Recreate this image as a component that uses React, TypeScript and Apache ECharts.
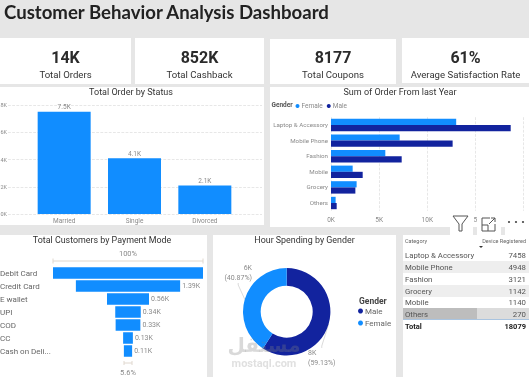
import React, { useEffect, useRef } from "react";
import * as echarts from "echarts";

const BLUE = "#118DFF";
const NAVY = "#12239E";
const SANS = "Roboto";

const kpiValues = ["14K", "852K", "8177", "61%"];
const kpiLabels = ["Total Orders", "Total Cashback", "Total Coupons", "Average Satisfaction Rate"];

const statusCategories = ["Married", "Single", "Divorced"];
const statusValues = [7500, 4100, 2100];
const statusLabels = ["7.5K", "4.1K", "2.1K"];

const productCategories = ["Laptop & Accessory", "Mobile Phone", "Fashion", "Mobile", "Grocery", "Others"];
const femaleOrders = [13000, 7130, 5640, 2250, 2660, 480];
const maleOrders = [18660, 12630, 7340, 3290, 2530, 590];

const payCategories = ["Debit Card", "Credit Card", "E wallet", "UPI", "COD", "CC", "Cash on Deli..."];
const payValues = [2000, 1390, 560, 340, 330, 130, 110];
const payLabels = ["", "1.39K", "0.56K", "0.34K", "0.33K", "0.13K", "0.11K"];

const genderNames = ["Male", "Female"];
const genderValues = [59.13, 40.87];
const genderLabels = ["8K\n(59.13%)", "6K\n(40.87%)"];

const tableCategories = ["Laptop & Accessory", "Mobile Phone", "Fashion", "Grocery", "Mobile", "Others"];
const tableValues = [7458, 4948, 3121, 1142, 1140, 270];
const tableTotal = 18079;

const kFmt = (v: number) => `${v / 1000}K`;
const GRAY = "#8a8a8a";
const TITLE = "#333333";

function rect(x: number, y: number, w: number, h: number, fill: string, z = 0) {
  return { type: "rect", silent: true, z, shape: { x, y, width: w, height: h }, style: { fill } };
}
function text(x: number, y: number, t: string, size: number, fill: string, align = "left", weight: any = "normal", z = 5, family = SANS) {
  return {
    type: "text", silent: true, z, x, y,
    style: { text: t, fontSize: size, fill, align, verticalAlign: "middle", fontWeight: weight, fontFamily: family },
  };
}
function line(x1: number, y1: number, x2: number, y2: number, stroke: string, w = 1, z = 5) {
  return { type: "line", silent: true, z, shape: { x1, y1, x2, y2 }, style: { stroke, lineWidth: w } };
}

export default function App() {
  const ref = useRef<HTMLDivElement>(null);
  useEffect(() => {
    const chart = echarts.init(ref.current!, undefined, { renderer: "svg" });
    const kpiBoxes = [
      [0, 38, 131, 46],
      [135, 38, 129, 46],
      [270, 39, 126, 45],
      [402, 38, 127, 45],
    ];
    const tableRowY = [255, 267, 279, 291, 302, 314];
    const graphic: any[] = [
      { ...rect(0, 0, 529, 377, "#E6E6E6"), z: -10 },
      text(4, 12, "Customer Behavior Analysis Dashboard", 18.6, "#222222", "left", "bold", 5, "Lato"),
      rect(0, 87, 264, 138, "#fff", -5),
      rect(270, 87, 259, 140, "#fff", -5),
      rect(0, 235, 207, 142, "#fff", -5),
      rect(213, 235, 183, 142, "#fff", -5),
      rect(403, 235, 126, 142, "#fff", -5),
      text(131, 92, "Total Order by Status", 9, TITLE, "center"),
      text(400, 92, "Sum of Order From last Year", 9, TITLE, "center"),
      text(102, 240, "Total Customers by Payment Mode", 8.9, TITLE, "center"),
      text(304.5, 240, "Hour Spending by Gender", 8.9, TITLE, "center"),
      text(271.5, 105, "Gender", 6.5, "#555", "left", "bold"),
      text(359, 301, "Gender", 8.5, "#444", "left", "bold"),
      text(128, 253, "100%", 7.5, GRAY, "center"),
      line(53, 261, 203, 261, "#e0d8cf"),
      line(53, 258.5, 53, 263.5, "#e0d8cf"),
      line(203, 258.5, 203, 263.5, "#e0d8cf"),
      text(128, 372, "5.6%", 7.5, GRAY, "center"),
      line(124, 363, 132, 363, "#e0d8cf"),
      line(124, 361, 124, 365, "#e0d8cf"),
      line(132, 361, 132, 365, "#e0d8cf"),
      // Filter / focus / more icons
      rect(450, 213, 23, 22, "#fff", 6),
      rect(477, 213, 24, 22, "#fff", 6),
      rect(505, 213, 24, 22, "#fff", 6),
      { type: "polyline", silent: true, z: 7, shape: { points: [[453, 216], [468, 216], [462, 224], [462, 231], [459, 231], [459, 224], [453, 216]] }, style: { fill: "none", stroke: "#555", lineWidth: 1 } },
      { type: "polyline", silent: true, z: 7, shape: { points: [[490, 218], [482, 218], [482, 231], [495, 231], [495, 224]] }, style: { fill: "none", stroke: "#555", lineWidth: 1 } },
      line(482, 225, 488, 225, "#555", 1, 7),
      line(488, 225, 488, 231, "#555", 1, 7),
      line(489, 224, 495, 218, "#555", 1, 7),
      { type: "polyline", silent: true, z: 7, shape: { points: [[491, 218], [495, 218], [495, 222]] }, style: { fill: "none", stroke: "#555", lineWidth: 1 } },
      { type: "circle", silent: true, z: 7, shape: { cx: 509, cy: 222, r: 1.1 }, style: { fill: "#555" } },
      { type: "circle", silent: true, z: 7, shape: { cx: 516, cy: 222, r: 1.1 }, style: { fill: "#555" } },
      { type: "circle", silent: true, z: 7, shape: { cx: 523, cy: 222, r: 1.1 }, style: { fill: "#555" } },
      // Table
      text(405, 241, "Category", 5.5, "#666"),
      text(526, 241, "Device Registered", 5.5, "#666", "right"),
      { type: "polygon", silent: true, z: 5, shape: { points: [[479, 246], [483, 246], [481, 248]] }, style: { fill: "#333" } },
      rect(403, 261, 126, 12, "#EEEEEE", 1),
      rect(403, 285, 126, 12, "#EEEEEE", 1),
      rect(403, 308, 74, 11.5, "#BDBDBD", 1),
      rect(477, 308, 52, 11.5, "#DCDCDC", 1),
      line(403, 319.5, 529, 319.5, "#A9C4E0", 1, 2),
      text(405, 326, "Total", 7.5, "#222", "left", "bold"),
      text(526, 326, String(tableTotal), 7.5, "#222", "right", "bold"),
      // Watermark
      text(264, 345, "مستقل", 20, "rgba(130,130,130,0.3)", "center", "bold", 20, "DejaVu Sans"),
      text(264, 363, "mostaql.com", 11, "rgba(130,130,130,0.25)", "center", "bold", 20),
    ];
    kpiBoxes.forEach((b, i) => {
      graphic.push(rect(b[0], b[1], b[2], b[3], "#fff", -5));
      const cx = b[0] + b[2] / 2;
      graphic.push(text(cx, 57, kpiValues[i], 16, "#2b2b2b", "center", "bold"));
      graphic.push(text(cx, 74.5, kpiLabels[i], 9.6, "#333", "center"));
    });
    tableCategories.forEach((c, i) => {
      graphic.push(text(405, tableRowY[i], c, 7.8, "#555"));
      graphic.push(text(526, tableRowY[i], String(tableValues[i]), 7.8, "#555", "right"));
    });

    const spacers = payValues.map((v) => (payValues[0] - v) / 2);

    chart.setOption({
      animation: false,
      backgroundColor: "transparent",
      textStyle: { fontFamily: SANS },
      graphic,
      grid: [
        { left: 8, right: 267, top: 105, height: 109, outerBoundsMode: "none" },
        { left: 29, width: 211, top: 105, height: 109, outerBoundsMode: "none" },
        { left: 331, width: 192.6, top: 117.2, height: 93.6, outerBoundsMode: "none" },
        { left: 53, width: 150, top: 266.5, height: 91, outerBoundsMode: "none" },
      ],
      xAxis: [
        { gridIndex: 0, type: "category", data: [], show: false },
        {
          gridIndex: 1, type: "category", data: statusCategories,
          axisLine: { show: false }, axisTick: { show: false },
          axisLabel: { color: GRAY, fontSize: 6.5, margin: 3 },
        },
        {
          gridIndex: 2, type: "value", min: 0, max: 20000, interval: 5000,
          axisLine: { show: false }, axisTick: { show: false },
          axisLabel: { color: GRAY, fontSize: 6.5, margin: 6, formatter: kFmt },
          splitLine: { show: true, lineStyle: { color: "#ddd", type: "dashed", width: 0.7 } },
        },
        { gridIndex: 3, type: "value", min: 0, max: 2000, show: false },
      ],
      yAxis: [
        {
          gridIndex: 0, type: "value", min: 0, max: 8000, interval: 2000,
          axisLine: { show: false }, axisTick: { show: false },
          axisLabel: { color: GRAY, fontSize: 5.5, margin: 1, formatter: kFmt },
          splitLine: { show: true, lineStyle: { color: "#ddd", type: "dashed", width: 0.7 } },
        },
        { gridIndex: 1, type: "value", min: 0, max: 8000, show: false },
        {
          gridIndex: 2, type: "category", data: productCategories, inverse: true,
          axisLine: { show: false }, axisTick: { show: false },
          axisLabel: { color: GRAY, fontSize: 6.2, margin: 3 },
        },
        {
          gridIndex: 3, type: "category", data: payCategories, inverse: true,
          axisLine: { show: false }, axisTick: { show: false },
          axisLabel: { color: "#666", fontSize: 8, margin: 53, align: "left" },
        },
      ],
      legend: [
        {
          data: ["Female", "Male"], left: 295.5, top: 102.5, icon: "circle", padding: 0,
          itemWidth: 4, itemHeight: 4, itemGap: 4,
          textStyle: { fontSize: 6.5, color: GRAY, padding: [0, 0, 0, -3] },
          selectedMode: false,
        },
        {
          data: genderNames.map((name) => ({ name })), left: 358, top: 307, orient: "vertical", icon: "circle", padding: 0,
          itemWidth: 5, itemHeight: 5, itemGap: 4,
          textStyle: { fontSize: 8, color: "#666", padding: [0, 0, 0, -3] },
          selectedMode: false,
        },
      ],
      series: [
        {
          type: "bar", xAxisIndex: 1, yAxisIndex: 1, barWidth: 53,
          data: statusValues, itemStyle: { color: BLUE },
          label: {
            show: true, position: "top", distance: 1, color: GRAY, fontSize: 6.5,
            formatter: (p: any) => statusLabels[p.dataIndex],
          },
        },
        {
          name: "Female", type: "bar", xAxisIndex: 2, yAxisIndex: 2, data: femaleOrders,
          barGap: 0, barWidth: 6.2, itemStyle: { color: BLUE },
        },
        {
          name: "Male", type: "bar", xAxisIndex: 2, yAxisIndex: 2, data: maleOrders,
          barGap: 0, barWidth: 6.2, itemStyle: { color: NAVY },
        },
        {
          type: "bar", xAxisIndex: 3, yAxisIndex: 3, stack: "funnel", barWidth: 11.5,
          data: spacers, itemStyle: { color: "transparent" }, silent: true,
        },
        {
          type: "bar", xAxisIndex: 3, yAxisIndex: 3, stack: "funnel", barWidth: 11.5,
          data: payValues, itemStyle: { color: BLUE },
          label: {
            show: true, position: "right", distance: 2, color: GRAY, fontSize: 7,
            formatter: (p: any) => payLabels[p.dataIndex],
          },
        },
        {
          type: "pie", center: [286.7, 311.7], radius: [26, 43.7], startAngle: 90, clockwise: true,
          data: genderNames.map((name, i) => ({
            name, value: genderValues[i],
            itemStyle: { color: i === 0 ? NAVY : BLUE },
            label: { formatter: genderLabels[i], color: GRAY, fontSize: 7, lineHeight: 10, align: i === 0 ? "left" : "right" },
          })),
          label: { show: true, position: "outside" },
          labelLayout: (p: any) =>
            p.dataIndex === 0
              ? { x: 308, y: 358, align: "left", verticalAlign: "middle" }
              : { x: 252, y: 273, align: "right", verticalAlign: "middle" },
          labelLine: { show: true, length: 3, length2: 2, lineStyle: { color: "#ccc", width: 0.7 } },
        },
      ],
    });
    return () => chart.dispose();
  }, []);
  return <div ref={ref} style={{ position: "fixed", left: 0, top: 0, width: 529, height: 377 }} />;
}
